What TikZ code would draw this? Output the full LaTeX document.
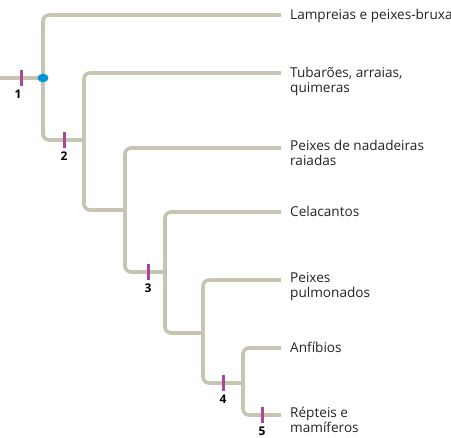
\documentclass[tikz,border=0pt]{standalone}
\usepackage{fontspec}
\setmainfont{Open Sans}
\usepackage{tikz}
\usetikzlibrary{shapes.geometric,positioning,calc}
\definecolor{treeBeige}{RGB}{200,196,178}
\definecolor{synPurple}{RGB}{168,72,150}
\definecolor{nodeBlue}{RGB}{0,146,214}
\definecolor{leafText}{RGB}{35,35,35}
\tikzset{
  branch/.style  = {draw=treeBeige, line width=3.6pt, rounded corners=6pt},
  leaf/.style    = {anchor=base west, inner sep=0pt, align=left,
                    font=\fontsize{13.6}{14.5}\selectfont, text=leafText},
  leaftwo/.style = {leaf, yshift=-14.5pt},
  synbar/.style  = {rectangle, fill=synPurple, minimum width=3pt,
                    minimum height=16pt, inner sep=0pt},
  synnum/.style  = {font=\fontsize{12}{13}\selectfont\bfseries, inner sep=0pt},
  rootdot/.style = {ellipse, fill=nodeBlue, minimum width=11pt,
                    minimum height=8.5pt, inner sep=0pt},
}
\begin{document}
\begin{tikzpicture}[x=1pt,y=-1pt]
  \useasboundingbox (0,0) rectangle (451,438);
  % junctions
  \coordinate (root) at (0,78);
  \coordinate (n1) at (43,78);
  \coordinate (n2) at (84,140);
  \coordinate (n3) at (125,210);
  \coordinate (n4) at (165,272);
  \coordinate (n5) at (203,333);
  \coordinate (n6) at (243,383);
  % branch tips
  \coordinate (tLamp) at (281,15);
  \coordinate (tTub)  at (281,73);
  \coordinate (tRaia) at (281,148);
  \coordinate (tCela) at (281,212);
  \coordinate (tPulm) at (281,280);
  \coordinate (tAnfi) at (281,348);
  \coordinate (tRept) at (281,415);
  % tree
  \draw[branch] (root) -- (n1);
  \draw[branch] (n1) |- (tLamp);
  \draw[branch] (n1) |- (n2);
  \draw[branch] (n2) |- (tTub);
  \draw[branch] (n2) |- (n3);
  \draw[branch] (n3) |- (tRaia);
  \draw[branch] (n3) |- (n4);
  \draw[branch] (n4) |- (tCela);
  \draw[branch] (n4) |- (n5);
  \draw[branch] (n5) |- (tPulm);
  \draw[branch] (n5) |- (n6);
  \draw[branch] (n6) |- (tAnfi);
  \draw[branch] (n6) |- (tRept);
  % leaves
  \node[leaf]    (lamp) at ($(tLamp)+(9,5)$) {Lampreias e peixes-bruxa};
  \node[leaftwo] (tub)  at ($(tTub)+(9,5)$)  {Tubarões, arraias,\\quimeras};
  \node[leaftwo] (raia) at ($(tRaia)+(9,3)$) {Peixes de nadadeiras\\raiadas};
  \node[leaf]    (cela) at ($(tCela)+(9,5)$) {Celacantos};
  \node[leaftwo] (pulm) at ($(tPulm)+(9,3)$) {Peixes\\pulmonados};
  \node[leaf]    (anfi) at ($(tAnfi)+(9,5)$) {Anfíbios};
  \node[leaftwo] (rept) at ($(tRept)+(9,3)$) {Répteis e\\mamíferos};
  % synapomorphies
  \node[rootdot] (dot) at (n1) {};
  \node[synbar] (s1) at (21,78) {};
  \node[synbar] (s2) at (64,140) {};
  \node[synbar] (s3) at (148,272) {};
  \node[synbar] (s4) at (223,383) {};
  \node[synbar] (s5) at (262,415) {};
  \node[synnum,below=3.5pt of s1,xshift=-3pt] (l1) {1};
  \node[synnum,below=3.5pt of s2] (l2) {2};
  \node[synnum,below=3.5pt of s3] (l3) {3};
  \node[synnum,below=3.5pt of s4] (l4) {4};
  \node[synnum,below=3.5pt of s5] (l5) {5};
\end{tikzpicture}
\end{document}
